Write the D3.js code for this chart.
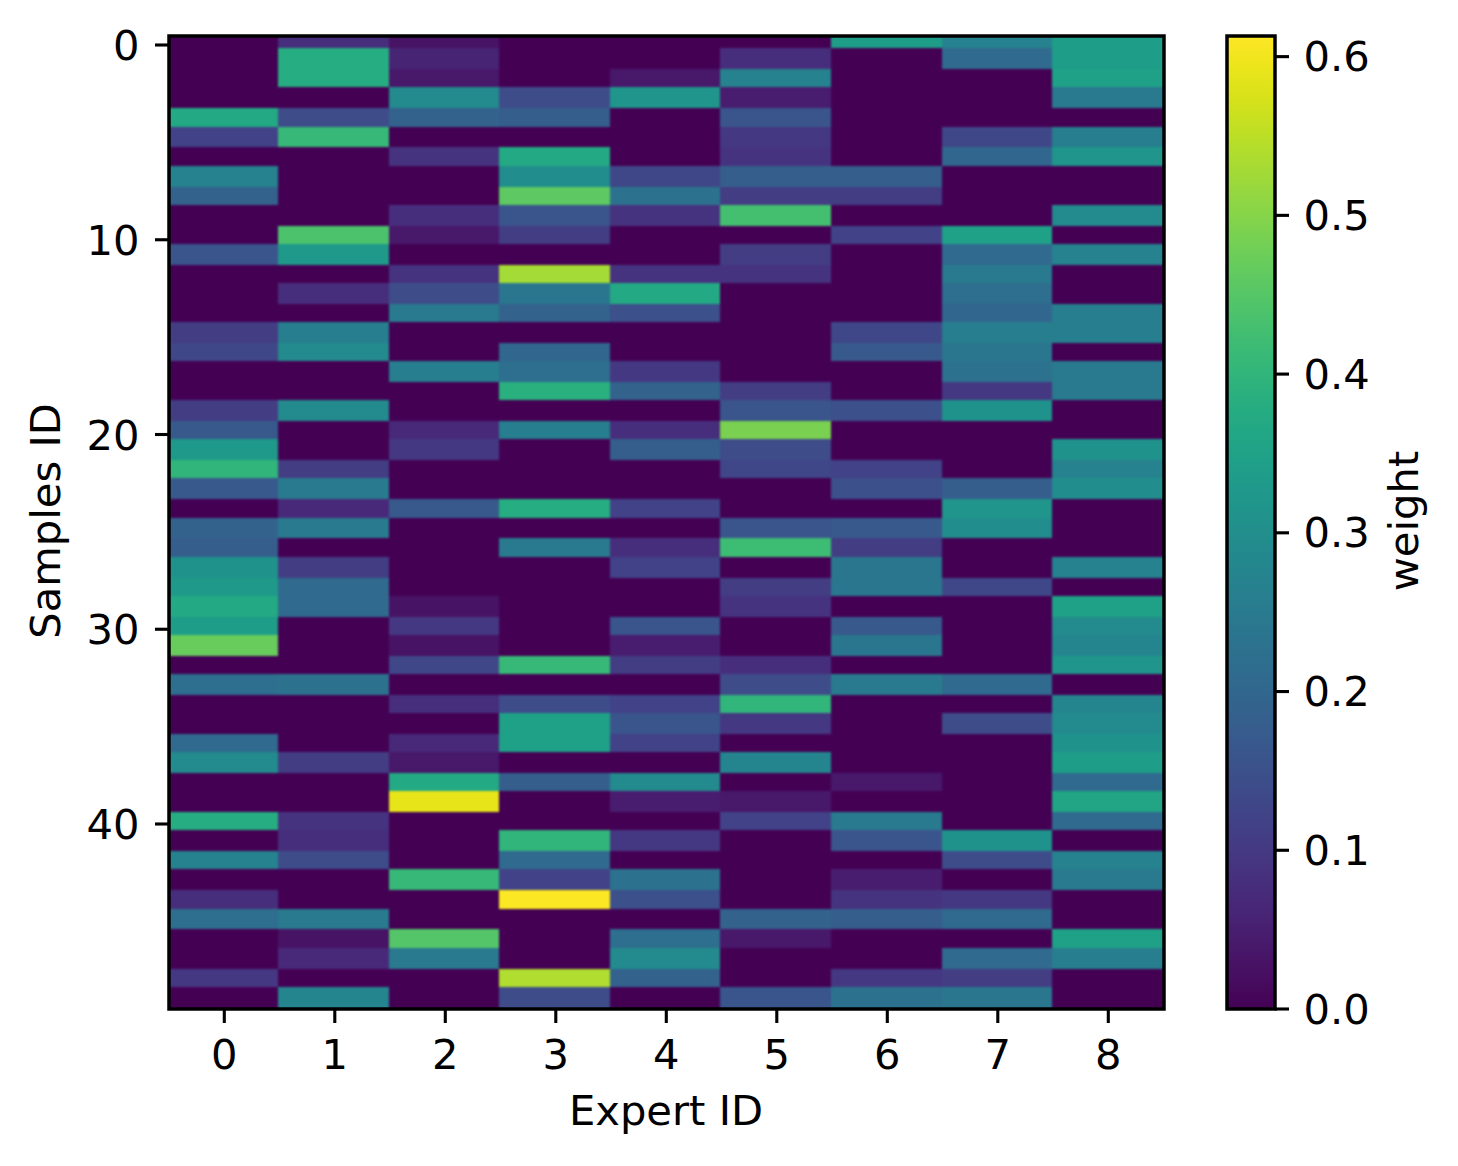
<!DOCTYPE html>
<html><head><meta charset="utf-8">
<script src="https://cdnjs.cloudflare.com/ajax/libs/d3/7.8.5/d3.min.js"></script>
<style>html,body{margin:0;padding:0;background:#fff}svg{display:block}text{font-family:"DejaVu Sans";fill:#000}</style>
</head><body><svg id="c" width="1458" height="1166"></svg>
<script>
const experts=[0,1,2,3,4,5,6,7,8];
const yTicks=[0,10,20,30,40];
const cbTicks=[0,0.1,0.2,0.3,0.4,0.5,0.6];
const vmax=0.613;
const xTitle="Expert ID",yTitle="Samples ID",cbTitle="weight";
const expert0=[0,0,0,0,.37,.12,0,.27,.19,0,0,.16,0,0,0,.11,.13,0,0,.11,.17,.33,.40,.17,0,.19,.18,.31,.33,.37,.34,.47,0,.22,0,0,.21,.29,0,0,.38,0,.27,0,.08,.22,0,0,.10,0];
const expert1=[.08,.38,.38,0,.14,.41,0,0,0,0,.44,.33,0,.08,0,.26,.29,0,0,.29,0,0,.11,.25,.07,.25,0,.11,.21,.21,0,0,0,.23,0,0,0,.11,0,0,.09,.08,.14,0,0,.25,.03,.07,0,.28];
const expert2=[.03,.06,.04,.29,.19,0,.09,0,0,.08,.04,0,.09,.14,.25,0,0,.26,0,0,.07,.10,0,0,.17,0,0,0,0,.03,.10,.03,.13,0,.08,0,.07,.04,.37,.59,0,0,0,.41,0,0,.45,.25,0,0];
const expert3=[0,0,0,.14,.18,0,.37,.30,.46,.16,.11,0,.53,.24,.19,0,.20,.22,.39,0,.26,0,0,0,.38,0,.25,0,0,0,0,0,.41,0,.14,.35,.35,0,.18,0,0,.40,.21,.12,.61,0,0,0,.54,.14];
const expert4=[0,0,.04,.32,0,0,0,.13,.23,.09,0,0,.09,.37,.15,0,0,.10,.19,0,.08,.18,0,0,.12,0,.08,.12,0,0,.16,.05,.11,0,.12,.16,.12,0,.29,.05,0,.10,0,.23,.15,0,.22,.29,.19,0];
const expert5=[0,.08,.27,.05,.16,.10,.09,.18,.11,.43,0,.11,.09,0,0,0,0,0,.11,.16,.49,.14,.13,0,0,.16,.42,0,.11,.09,0,0,.08,.14,.40,.10,0,.28,0,.04,.12,0,0,0,0,.19,.04,0,0,.16];
const expert6=[.34,0,0,0,0,0,0,.18,.11,0,.12,0,0,0,0,.13,.17,0,0,.15,0,0,.12,.15,0,.17,.11,.24,.24,0,.17,.24,0,.25,0,0,0,0,.04,0,.25,.16,0,.05,.09,.18,0,0,.10,.23];
const expert7=[.27,.21,0,0,0,.13,.20,0,0,0,.35,.21,.25,.22,.20,.26,.24,.23,.10,.31,0,0,0,.18,.32,.30,0,0,.13,0,0,0,0,.21,0,.14,0,0,0,0,0,.31,.14,0,.10,.21,0,.21,.11,.24];
const expert8=[.34,.34,.35,.25,0,.26,.32,0,0,.29,0,.27,0,0,.26,.26,0,.25,.25,0,0,.31,.27,.30,0,0,0,.27,0,.35,.29,.28,.32,0,.28,.29,.31,.34,.21,.36,.21,0,.27,.25,0,0,.35,.26,0,0];
const matrix=[expert0,expert1,expert2,expert3,expert4,expert5,expert6,expert7,expert8];
const samples=d3.range(expert0.length);

const FS=41.67,SW=3.5,TW=3.1,TL=14;
const box={l:169,r:1164,t:36,b:1009};
const svg=d3.select("#c");
const color=d3.scaleSequential(d3.interpolateViridis).domain([0,vmax]);

const x=d3.scaleLinear().domain([0,8]).range([224.3,1108.3]);
const y=d3.scaleLinear().domain([0,40]).range([45,824]);
// cell scales: the raster is resampled, so its bands sit a little off the ticks
const cx=d3.scaleBand().domain(experts).range([167.4,1162.8]);
const cy=d3.scaleBand().domain(samples).range([28.75,1006.25]);
const nudge=k=>k%2===1?1.4:0;

const defs=svg.append("defs");
defs.append("clipPath").attr("id","pl").append("rect").attr("x",box.l).attr("y",box.t).attr("width",box.r-box.l).attr("height",box.b-box.t);
const f=defs.append("filter").attr("id","soft").attr("x","-2%").attr("y","-2%").attr("width","104%").attr("height","104%").attr("color-interpolation-filters","sRGB");
f.append("feGaussianBlur").attr("stdDeviation",0.8).attr("edgeMode","duplicate");

const cells=[];
matrix.forEach((col,i)=>col.forEach((v,k)=>cells.push({i,k,v})));
svg.append("g").attr("clip-path","url(#pl)").append("g").attr("filter","url(#soft)")
 .selectAll("rect").data(cells).join("rect")
 .attr("x",d=>cx(d.i)).attr("width",d=>cx.bandwidth()+(d.i<8?0.5:4))
 .attr("y",d=>cy(d.k)+(d.k>0?nudge(d.k-1):0))
 .attr("height",d=>cy.bandwidth()+nudge(d.k)-(d.k>0?nudge(d.k-1):0)+(d.k<49?0.4:6))
 .attr("fill",d=>color(d.v)).attr("shape-rendering","crispEdges");

function frame(l,r,t,b){
  svg.append("rect").attr("x",l).attr("y",t).attr("width",r-l).attr("height",b-t)
   .attr("fill","none").attr("stroke","#000").attr("stroke-width",SW);
}
frame(box.l,box.r,box.t,box.b);

const gx=svg.append("g").selectAll("g").data(experts).join("g");
gx.append("line").attr("x1",d=>x(d)).attr("x2",d=>x(d)).attr("y1",box.b).attr("y2",box.b+TL).attr("stroke","#000").attr("stroke-width",TW);
gx.append("text").attr("x",d=>x(d)).attr("y",1069).attr("text-anchor","middle").attr("font-size",FS).text(d=>d);

const gy=svg.append("g").selectAll("g").data(yTicks).join("g");
gy.append("line").attr("x1",box.l-TL).attr("x2",box.l).attr("y1",d=>y(d)).attr("y2",d=>y(d)).attr("stroke","#000").attr("stroke-width",TW);
gy.append("text").attr("x",139.5).attr("y",d=>y(d)+15).attr("text-anchor","end").attr("font-size",FS).text(d=>d);

svg.append("text").attr("x",666).attr("y",1125).attr("text-anchor","middle").attr("font-size",FS).text(xTitle);
svg.append("text").attr("transform","translate(60,521) rotate(-90)").attr("text-anchor","middle").attr("font-size",FS).text(yTitle);

// colorbar: opaque gradient built from the same colour scale
const cb={l:1227,r:1275,t:36,b:1009};
const cbY=d3.scaleLinear().domain([0,vmax]).range([cb.b,cb.t]);
const stops=d3.range(0,1.0001,1/32);
const grad=defs.append("linearGradient").attr("id","cbg").attr("x1",0).attr("x2",0).attr("y1",1).attr("y2",0);
grad.selectAll("stop").data(stops).join("stop").attr("offset",d=>d).attr("stop-color",d=>color(d*vmax));
svg.append("rect").attr("x",cb.l).attr("width",cb.r-cb.l).attr("y",cb.t).attr("height",cb.b-cb.t).attr("fill","url(#cbg)");
frame(cb.l,cb.r,cb.t,cb.b);
const gc=svg.append("g").selectAll("g").data(cbTicks).join("g");
gc.append("line").attr("x1",cb.r).attr("x2",cb.r+TL).attr("y1",d=>cbY(d)).attr("y2",d=>cbY(d)).attr("stroke","#000").attr("stroke-width",TW);
gc.append("text").attr("x",1303.5).attr("y",d=>cbY(d)+14.5).attr("font-size",FS).text(d=>d3.format(".1f")(d));
svg.append("text").attr("transform","translate(1418,521) rotate(-90)").attr("text-anchor","middle").attr("font-size",FS).text(cbTitle);
</script></body></html>
